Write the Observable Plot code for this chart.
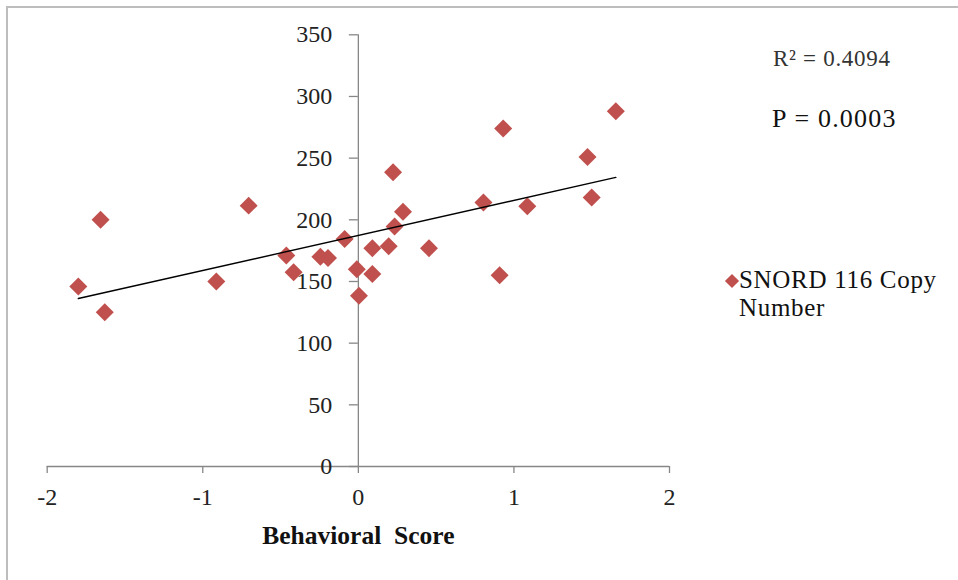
<!DOCTYPE html>
<html>
<head>
<meta charset="utf-8">
<script src="https://cdn.jsdelivr.net/npm/d3@7"></script>
<script src="https://cdn.jsdelivr.net/npm/@observablehq/plot@0.6"></script>
<style>
  html, body { margin: 0; padding: 0; background: #fff; overflow: hidden; }
  #wrap { position: relative; width: 958px; height: 580px; font-family: "Liberation Serif", "Times New Roman", serif; }
  #frame { position: absolute; left: 6px; top: 6px; width: 980px; height: 600px;
           border-left: 2px solid #bdbdbd; border-top: 2px solid #bdbdbd; }
  #chart { position: absolute; left: 0; top: 0; }
  .note { position: absolute; white-space: nowrap; color: #2a2a2a; }
  #r2 { left: 773px; top: 47px; font-size: 23px; line-height: 23px; letter-spacing: 0.7px; color: #333; }
  #pval { left: 772px; top: 106px; font-size: 26px; line-height: 26px; letter-spacing: 1.2px; color: #111; }
  #legend { position: absolute; left: 722px; top: 266px; font-size: 25px; line-height: 28px; color: #111; }
  #legend .sw { position: absolute; left: 5px; top: 10px; width: 10px; height: 10px; background: #c0504d; transform: rotate(45deg); }
  #legend .lbl { position: absolute; left: 17px; top: 0; width: 225px; letter-spacing: 0.7px; }
</style>
</head>
<body>
<div id="wrap">
  <div id="frame"></div>
  <div id="chart"></div>
  <div id="r2" class="note"></div>
  <div id="pval" class="note"></div>
  <div id="legend"><div class="sw"></div><div class="lbl"></div></div>
</div>
<script>
// Behavioral score vs. SNORD116 copy number, one value per subject
const behavioralScore = [-1.80, -1.657, -1.63, -0.913, -0.705, -0.463, -0.416, -0.244, -0.195, -0.088,
  -0.01, 0.004, 0.09, 0.09, 0.195, 0.223, 0.233, 0.287, 0.454, 0.804, 0.908, 0.931, 1.086, 1.473, 1.50, 1.655];
const copyNumber = [146, 200, 125, 150, 211.5, 171, 157.5, 170, 169, 184.5,
  160, 138.5, 177, 156, 178.5, 238.5, 194.5, 206.5, 177, 214, 155, 274, 211, 251, 218, 288];

const xTicks = [-2, -1, 0, 1, 2];
const yTicks = [0, 50, 100, 150, 200, 250, 300, 350];
const xLabel = "Behavioral\u00a0 Score";
const seriesName = "SNORD 116 Copy Number";
const r2Text = "R\u00b2 = 0.4094";
const pText = "P = 0.0003";

const points = behavioralScore.map((x, i) => ({x, y: copyNumber[i]}));
const axisColor = "#878787";

const chart = Plot.plot({
  width: 700,
  height: 580,
  marginLeft: 46.7,
  marginRight: 31,
  marginTop: 34.3,
  marginBottom: 114,
  x: {domain: [-2, 2], axis: null},
  y: {domain: [0, 350], axis: null},
  style: {fontFamily: "'Liberation Serif', 'Times New Roman', serif", fontSize: "24px", color: "#222", background: "transparent"},
  marks: [
    // axes crossing at the origin
    Plot.ruleX([0], {y1: () => 0, y2: () => 350, stroke: axisColor, strokeWidth: 1.3}),
    Plot.ruleY([0], {x1: () => -2, x2: () => 2, stroke: axisColor, strokeWidth: 1.3}),
    Plot.ruleY(yTicks, {x1: () => 0, x2: () => 0, insetLeft: -9, stroke: axisColor, strokeWidth: 1.3}),
    Plot.ruleX(xTicks, {y1: () => 0, y2: () => 0, insetTop: 7, stroke: axisColor, strokeWidth: 1.3}),
    Plot.text(yTicks, {x: () => 0, y: d => d, text: d => `${d}`, textAnchor: "end", dx: -26, fill: "#222"}),
    Plot.text(xTicks, {x: d => d, y: () => 0, text: d => `${d}`, dy: 31, fill: "#222"}),
    Plot.text([xLabel], {x: () => 0, y: () => 0, text: d => d, dy: 69, fontSize: 25.5, fontWeight: "bold", fill: "#111"}),
    // data points and least-squares trend line
    Plot.dot(points, {x: "x", y: "y", symbol: "diamond2", r: 8.1, fill: "#c0504d", stroke: "none"}),
    Plot.linearRegressionY(points, {x: "x", y: "y", ci: 0, stroke: "#000", strokeWidth: 1.4})
  ]
});
document.getElementById("chart").appendChild(chart);
document.getElementById("r2").textContent = r2Text;
document.getElementById("pval").textContent = pText;
document.querySelector("#legend .lbl").textContent = seriesName;
</script>
</body>
</html>
